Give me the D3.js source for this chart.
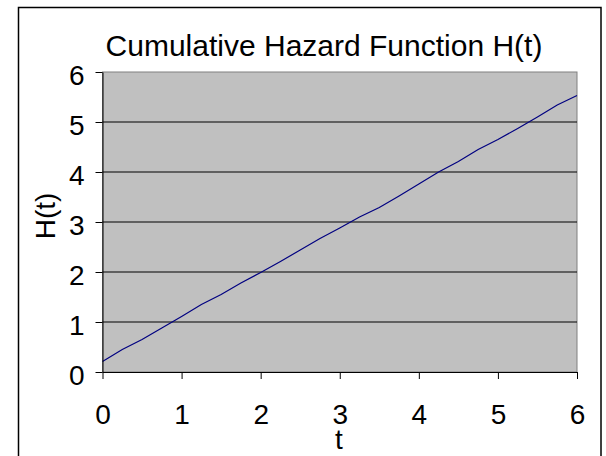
<!DOCTYPE html>
<html>
<head>
<meta charset="utf-8">
<script src="https://cdn.jsdelivr.net/npm/d3@7"></script>
<style>
  body { margin: 0; background: #fff; }
  text { font-family: "Liberation Sans", Arial, sans-serif; fill: #000; }
</style>
</head>
<body>
<svg id="chart" width="606" height="456"></svg>
<script>
// data ----------------------------------------
var tValues = [0, 0.25, 0.5, 0.75, 1, 1.25, 1.5, 1.75, 2, 2.25, 2.5, 2.75, 3,
               3.25, 3.5, 3.75, 4, 4.25, 4.5, 4.75, 5, 5.25, 5.5, 5.75, 6];
var hValues = [0.21, 0.45, 0.65, 0.88, 1.11, 1.35, 1.55, 1.78, 1.99, 2.21, 2.44, 2.67, 2.88,
               3.10, 3.29, 3.52, 3.76, 4.00, 4.21, 4.45, 4.65, 4.87, 5.10, 5.34, 5.53];
var xTicks = [0, 1, 2, 3, 4, 5, 6];
var yTicks = [0, 1, 2, 3, 4, 5, 6];

var svg = d3.select("#chart");

// outer frame
svg.append("rect")
  .attr("x", 18.5).attr("y", 7.5)
  .attr("width", 582.5).attr("height", 470)
  .attr("fill", "#fff")
  .attr("stroke", "#000")
  .attr("stroke-width", 1.5);

// scales ----------------------------------------
var x = d3.scaleLinear().domain([0, 6]).range([102.5, 577]);
var y = d3.scaleLinear().domain([0, 6]).range([372, 72]);

// plot area
svg.append("rect")
  .attr("x", x(0)).attr("y", y(6))
  .attr("width", x(6) - x(0)).attr("height", y(0) - y(6))
  .attr("fill", "#c0c0c0")
  .attr("stroke", "#808080")
  .attr("stroke-width", 1);

// gridlines
svg.append("g")
  .selectAll("line")
  .data(yTicks.filter(function(d) { return d > 0 && d < 6; }))
  .enter().append("line")
  .attr("x1", x(0)).attr("x2", x(6))
  .attr("y1", function(d) { return y(d); })
  .attr("y2", function(d) { return y(d); })
  .attr("stroke", "#000")
  .attr("stroke-width", 1);

// line
var line = d3.line()
  .x(function(d, i) { return x(tValues[i]); })
  .y(function(d) { return y(d); });

svg.append("path")
  .datum(hValues)
  .attr("d", line)
  .attr("fill", "none")
  .attr("stroke", "#000080")
  .attr("stroke-width", 1.2);

// axes ----------------------------------------
var yAxis = svg.append("g")
  .attr("transform", "translate(" + x(0) + ",0)")
  .call(d3.axisLeft(y).tickValues(yTicks).tickFormat(d3.format("d"))
    .tickSize(7).tickPadding(11).tickSizeOuter(0));
yAxis.selectAll("text").attr("font-size", 28).attr("dy", "0.46em");

var xAxis = svg.append("g")
  .attr("transform", "translate(0," + y(0) + ")")
  .call(d3.axisBottom(x).tickValues(xTicks).tickFormat(d3.format("d"))
    .tickSize(7).tickPadding(25).tickSizeOuter(0));
xAxis.selectAll("text").attr("font-size", 28);

svg.selectAll("g").attr("font-family", null);
svg.selectAll(".domain").attr("stroke", "#000");
svg.selectAll(".tick line").attr("stroke", "#000");

// titles ----------------------------------------
svg.append("text")
  .attr("x", 324).attr("y", 56)
  .attr("text-anchor", "middle")
  .attr("font-size", 30)
  .text("Cumulative Hazard Function H(t)");

svg.append("text")
  .attr("x", 339).attr("y", 449)
  .attr("text-anchor", "middle")
  .attr("font-size", 28)
  .text("t");

svg.append("text")
  .attr("transform", "translate(55,216) rotate(-90)")
  .attr("text-anchor", "middle")
  .attr("font-size", 28)
  .text("H(t)");
</script>
</body>
</html>
